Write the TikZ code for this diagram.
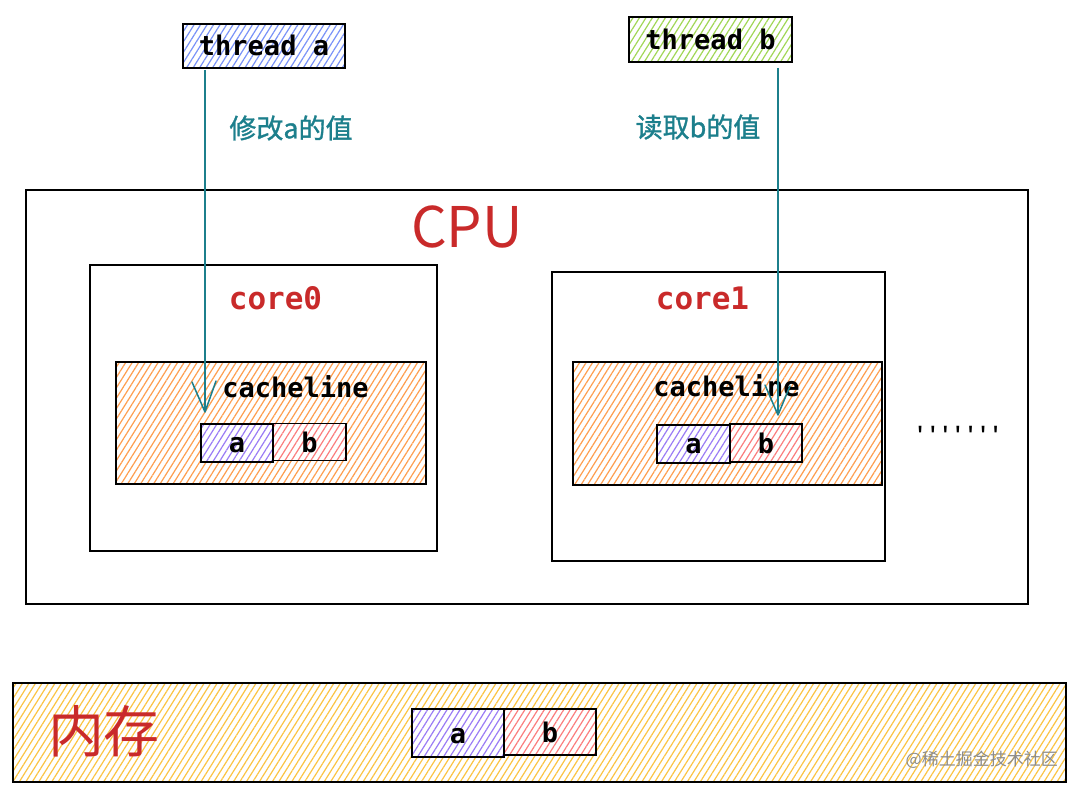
\documentclass[tikz,border=0pt]{standalone}
\usepackage{fontspec}
\setmonofont{DejaVu Sans Mono}
\newfontfamily\cjk{Noto Sans CJK SC}
\newfontfamily\cjkm[FakeBold=1.2]{Noto Sans CJK SC}
\newfontfamily\tickfont{Liberation Mono}
\usetikzlibrary{patterns.meta,arrows.meta}
\definecolor{tealc}{HTML}{1C7F8C}
\definecolor{redt}{HTML}{C92A2A}
\definecolor{hblue}{HTML}{4C6EF5}
\definecolor{hgreen}{HTML}{82C91E}
\definecolor{horange}{HTML}{FD7E14}
\definecolor{hpurple}{HTML}{7950F2}
\definecolor{hred}{HTML}{FA5252}
\definecolor{hyellow}{HTML}{FAB005}
\tikzset{
  box/.style={draw=black, line width=1.6pt, inner sep=0pt, fill=white},
  hatch/.style={box, preaction={fill=white}, pattern={Lines[angle=58,distance=5.5pt,line width=1.2pt]}, pattern color=#1!75},
  monot/.style={font=\ttfamily\bfseries\fontsize{27}{27}\selectfont, inner sep=0pt, text height=0.55em, text depth=0pt},
  redmono/.style={font=\ttfamily\bfseries\fontsize{31}{31}\selectfont, text=redt, inner sep=0pt},
  cjkl/.style={font=\cjkm\fontsize{27}{27}\selectfont, text=tealc, inner sep=0pt},
  bigred/.style={font=\cjk\fontsize{56}{56}\selectfont, text=redt, inner sep=0pt},
  arr/.style={draw=tealc, line width=1.6pt},
  arrhead/.style={draw=tealc, line width=1.5pt, line cap=round},
}
\begin{document}
\begin{tikzpicture}[x=1pt,y=-1pt]
\useasboundingbox[fill=white] (0,0) rectangle (1080,792);
% CPU
\node[box, minimum width=1002pt, minimum height=414pt] (cpu) at (527,397) {};
\node[bigred] (cpul) at (467,227) {CPU};
% cores
\node[box, minimum width=347pt, minimum height=286pt] (core0) at (263.5,408) {};
\node[redmono] (core0l) at (275.5,298) {core0};
\node[box, minimum width=333pt, minimum height=289pt] (core1) at (718.5,416.5) {};
\node[redmono] (core1l) at (702.5,298) {core1};
% cachelines
\node[hatch=horange, minimum width=310pt, minimum height=122pt] (cache0) at (271,423) {};
\node[monot] (cache0l) at (295.5,395) {cacheline};
\node[hatch=horange, minimum width=309pt, minimum height=123pt] (cache1) at (727.5,423.5) {};
\node[monot] (cache1l) at (726.5,394) {cacheline};
% a/b in caches
\node[hatch=hpurple, minimum width=72pt, minimum height=38pt] (a0) at (237,443) {};
\node[monot] (a0l) at (237,450) {a};
\node[hatch=hred, minimum width=73pt, minimum height=37pt] (b0) at (309.5,442) {};
\node[monot] (b0l) at (309.5,450) {b};
\node[hatch=hpurple, minimum width=73pt, minimum height=38pt] (a1) at (693.5,444) {};
\node[monot] (a1l) at (693.5,451) {a};
\node[hatch=hred, minimum width=72pt, minimum height=38pt] (b1) at (766,443) {};
\node[monot] (b1l) at (766,451) {b};
% dots
\node[font=\tickfont\bfseries\fontsize{21}{21}\selectfont, inner sep=0pt] (dots) at (958,434) {'''''''};
% threads
\node[hatch=hblue, minimum width=162pt, minimum height=44pt] (ta) at (264,46) {};
\node[monot] (tal) at (264,53) {thread a};
\node[hatch=hgreen, minimum width=163pt, minimum height=45pt] (tb) at (710.5,39.5) {};
\node[monot] (tbl) at (710.5,47) {thread b};
% arrows
\coordinate (sa) at (205,70);
\coordinate (ea) at (205,412);
\coordinate (sb) at (778,68);
\coordinate (eb) at (778,415);
\draw[arr] (sa) -- (ea);
\draw[arrhead] (ea) -- ++(-13,-30) (ea) -- ++(11,-31);
\draw[arr] (sb) -- (eb);
\draw[arrhead] (eb) -- ++(-13,-30) (eb) -- ++(12,-29);
\node[cjkl] (la) at (291,128) {修改a的值};
\node[cjkl] (lb) at (698,127) {读取b的值};
% memory
\node[hatch=hyellow, minimum width=1053pt, minimum height=99pt] (mem) at (539.5,732.5) {};
\node[bigred] (meml) at (104,731) {内存};
\node[hatch=hpurple, minimum width=92pt, minimum height=48pt] (am) at (458,733) {};
\node[monot] (aml) at (458,741) {a};
\node[hatch=hred, minimum width=92pt, minimum height=46pt] (bm) at (550,732) {};
\node[monot] (bml) at (550,740) {b};
\node[font=\cjk\fontsize{17}{17}\selectfont, text=black!45, anchor=east, inner sep=0pt] (wm) at (1058,760) {@稀土掘金技术社区};
\end{tikzpicture}
\end{document}
